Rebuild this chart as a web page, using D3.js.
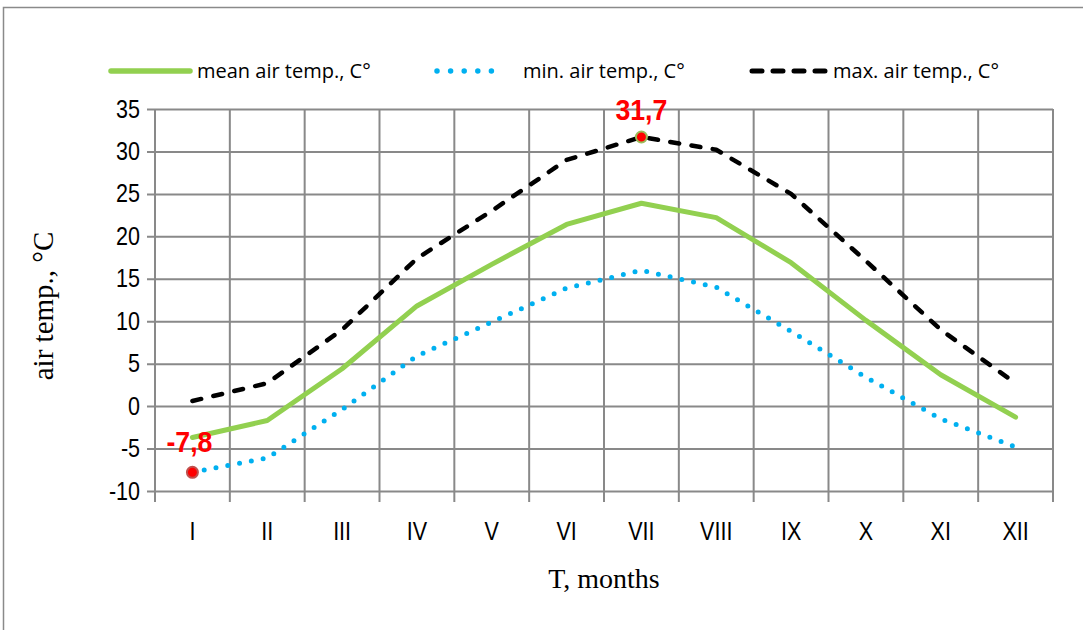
<!DOCTYPE html>
<html>
<head>
<meta charset="utf-8">
<script src="https://cdn.jsdelivr.net/npm/d3@7"></script>
<style>
  html, body { margin: 0; padding: 0; background: #fff; }
  svg { display: block; }
</style>
</head>
<body>
<svg id="chart" width="1083" height="630"></svg>
<script>
// Monthly air temperature, °C
const months   = ["I", "II", "III", "IV", "V", "VI", "VII", "VIII", "IX", "X", "XI", "XII"];
const meanTemp = [-3.7, -1.7, 4.4, 11.8, 16.7, 21.4, 23.9, 22.2, 16.9, 10.1, 3.7, -1.3];
const minTemp  = [-7.8, -6.1, -0.4, 5.9, 9.9, 13.9, 16.0, 14.0, 8.8, 3.4, -1.5, -4.8];
const maxTemp  = [0.6, 2.7, 9.0, 17.4, 23.0, 29.0, 31.7, 30.2, 25.0, 17.1, 9.0, 2.7];
const yTicks   = [-10, -5, 0, 5, 10, 15, 20, 25, 30, 35];
const legendLabels = ["mean air temp., C°", "min. air temp., C°", "max. air temp., C°"];

const svg = d3.select("#chart");
const W = 1083, H = 630;
const plot = { left: 155, right: 1053, top: 109, bottom: 491 };
const gridColor = "#898989";
const sansFont = "'Liberation Sans', Arial, sans-serif";
const serifFont = "'Liberation Serif', 'Times New Roman', serif";

// squeeze a text run horizontally while keeping its anchor
function condense(sel, k) {
  sel.each(function () {
    const len = this.getComputedTextLength();
    d3.select(this).attr("textLength", len * k).attr("lengthAdjust", "spacingAndGlyphs");
  });
}

// outer frame
svg.append("rect")
  .attr("x", 3.5).attr("y", 7.5)
  .attr("width", W + 20).attr("height", H + 20)
  .attr("fill", "none").attr("stroke", "#8a8a8a").attr("stroke-width", 1.5);

const x = d3.scaleBand().domain(months).range([plot.left, plot.right]).padding(0);
const y = d3.scaleLinear().domain([-10, 35]).range([plot.bottom, plot.top]);
const cx = m => x(m) + x.bandwidth() / 2;

// horizontal grid + y tick labels (ticks extend 8px outside the plot)
const yAxis = d3.axisLeft(y)
  .tickValues(yTicks)
  .tickSize(plot.right - plot.left + 8)
  .tickPadding(7)
  .tickFormat(d => String(d));
const gy = svg.append("g")
  .attr("transform", `translate(${plot.right},0)`)
  .call(yAxis);
gy.select(".domain").remove();
gy.selectAll(".tick line").attr("stroke", gridColor).attr("stroke-width", 2);
gy.selectAll(".tick text")
  .attr("fill", "#000")
  .style("font-family", sansFont)
  .style("font-size", "25px")
  .call(condense, 0.86);

// vertical grid at category boundaries, extending below the axis as tick marks
const bounds = months.map(m => x(m)).concat([plot.right]);
svg.append("g").selectAll("line")
  .data(bounds)
  .join("line")
  .attr("x1", d => d).attr("x2", d => d)
  .attr("y1", plot.top).attr("y2", plot.bottom + 11)
  .attr("stroke", gridColor).attr("stroke-width", 2);

// x tick labels
const xAxis = d3.axisBottom(x).tickSize(0).tickPadding(31);
const gx = svg.append("g")
  .attr("transform", `translate(0,${plot.bottom})`)
  .call(xAxis);
gx.select(".domain").remove();
gx.selectAll(".tick text")
  .attr("fill", "#000")
  .style("font-family", sansFont)
  .style("font-size", "25px")
  .call(condense, 0.86);

// axis titles
svg.append("text")
  .attr("transform", "translate(53,306) rotate(-90)")
  .attr("text-anchor", "middle")
  .style("font-family", serifFont)
  .style("font-size", "29px")
  .text("air temp., °C");
svg.append("text")
  .attr("x", (plot.left + plot.right) / 2)
  .attr("y", 588)
  .attr("text-anchor", "middle")
  .style("font-family", serifFont)
  .style("font-size", "28px")
  .text("T, months");

// series
const series = [
  { name: legendLabels[0], values: meanTemp, color: "#92d050", width: 5, dash: null },
  { name: legendLabels[1], values: minTemp,  color: "#00b0f0", width: 5, dash: "0,12" },
  { name: legendLabels[2], values: maxTemp,  color: "#000000", width: 4.5, dash: "9,12.5" }
];

const line = d3.line()
  .x((d, i) => cx(months[i]))
  .y(d => y(d))
  .curve(d3.curveLinear);

svg.append("g").selectAll("path")
  .data(series)
  .join("path")
  .attr("d", s => line(s.values))
  .attr("fill", "none")
  .attr("stroke", s => s.color)
  .attr("stroke-width", s => s.width)
  .attr("stroke-dasharray", s => s.dash)
  .attr("stroke-linecap", "round")
  .attr("stroke-linejoin", "round");

// highlighted extremes: coldest minimum and hottest maximum
const iMin = minTemp.indexOf(d3.min(minTemp));
const iMax = maxTemp.indexOf(d3.max(maxTemp));
const extremes = [
  { month: months[iMin], value: minTemp[iMin], stroke: "#c0504d", labelDx: -3, labelDy: -20 },
  { month: months[iMax], value: maxTemp[iMax], stroke: "#9bbb59", labelDx: 0, labelDy: -17 }
];
const fmt = v => String(v).replace(".", ",");

svg.append("g").selectAll("circle")
  .data(extremes)
  .join("circle")
  .attr("cx", d => cx(d.month))
  .attr("cy", d => y(d.value))
  .attr("r", 5.5)
  .attr("fill", "#ff0000")
  .attr("stroke", d => d.stroke)
  .attr("stroke-width", 2);

svg.append("g").selectAll("text")
  .data(extremes)
  .join("text")
  .attr("x", d => cx(d.month) + d.labelDx)
  .attr("y", d => y(d.value) + d.labelDy)
  .attr("text-anchor", "middle")
  .attr("fill", "#ff0000")
  .style("font-family", sansFont)
  .style("font-size", "29px")
  .style("font-weight", "bold")
  .text(d => fmt(d.value))
  .call(condense, 0.92);

// legend
const legendY = 71;
const legendItems = [
  { s: series[0], x1: 111, x2: 190, tx: 197, dash: null },
  { s: series[1], x1: 437, x2: 505, tx: 523, dash: "0,13.6" },
  { s: series[2], x1: 752, x2: 826, tx: 833, dash: "10,11" }
];
const lg = svg.append("g");
legendItems.forEach(it => {
  lg.append("line")
    .attr("x1", it.x1).attr("x2", it.x2)
    .attr("y1", legendY).attr("y2", legendY)
    .attr("stroke", it.s.color)
    .attr("stroke-width", it.dash === "10,11" ? 5 : 5.5)
    .attr("stroke-dasharray", it.dash)
    .attr("stroke-linecap", "round");
  lg.append("text")
    .attr("x", it.tx).attr("y", legendY + 7)
    .style("font-family", "'Open Sans', sans-serif")
    .style("font-size", "20px")
    .attr("fill", "#000")
    .text(it.s.name);
});
</script>
</body>
</html>
